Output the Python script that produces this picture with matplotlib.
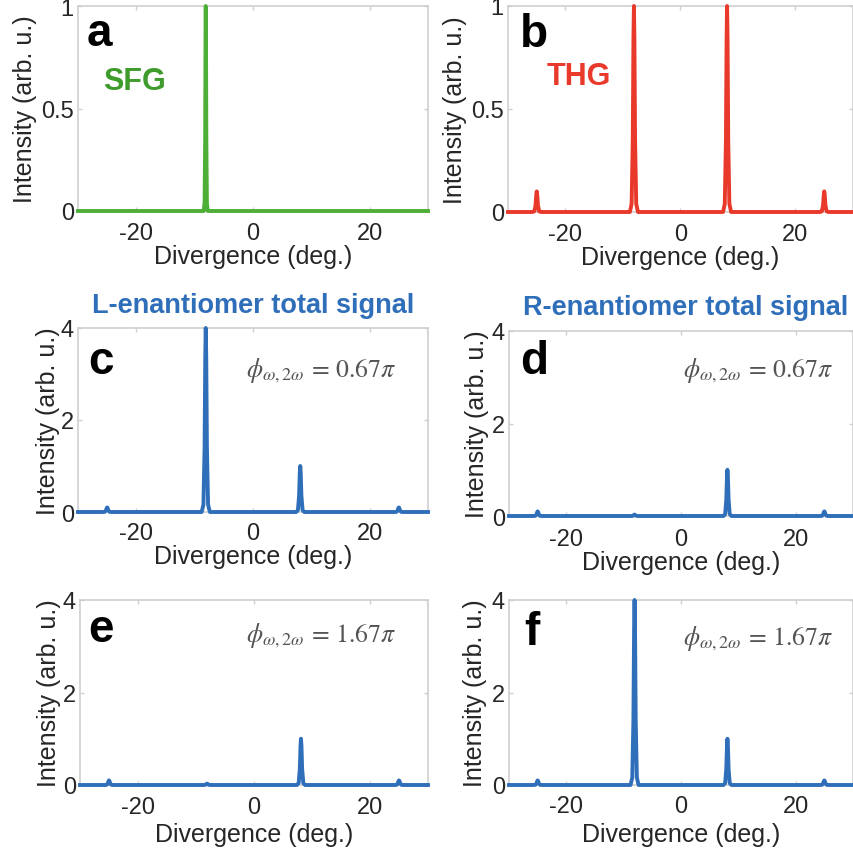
import matplotlib
matplotlib.use("Agg")
from matplotlib import pyplot as plt

# peak centres (deg.) and heights
CENTERS = [-25.0, -8.1, 8.1, 25.0]
H_SFG = [0.0, 1.0, 0.0, 0.0]
H_THG = [0.1, 1.0, 1.0, 0.1]
H_L_067 = [0.1, 4.0, 1.0, 0.1]
H_R_067 = [0.1, 0.03, 1.0, 0.1]
H_L_167 = [0.1, 0.03, 1.0, 0.1]
H_R_167 = [0.1, 4.0, 1.0, 0.1]

# shape of one peak (offset in deg., fraction of height)
PEAK_DX = [-0.7, -0.4, -0.2, -0.08, 0.0, 0.08, 0.2, 0.4, 0.7]
PEAK_DX_SFG = [-0.35, -0.2, -0.1, -0.04, 0.0, 0.04, 0.1, 0.2, 0.35]
PEAK_SHAPE = [0.0, 0.04, 0.35, 0.85, 1.0, 0.85, 0.35, 0.04, 0.0]

XLIM = (-30, 30)
XTICKS = [-20, 0, 20]
YTICKS_TOP = [0, 0.5, 1]
YTICKLABELS_TOP = ['0', '0.5', '1']
YTICKS_LOW = [0, 2, 4]
YTICKLABELS_LOW = ['0', '2', '4']

GREEN = '#4DAF36'
GREEN_TXT = '#3F9C2C'
RED = '#E8392B'
BLUE = '#2F6EB9'
SPINE = '#CFCFCF'
TXT = '#262626'
PHI_COL = '#555555'

plt.rcParams['font.family'] = ['Liberation Sans', 'DejaVu Sans']
plt.rcParams['mathtext.fontset'] = 'stix'
plt.rcParams['axes.unicode_minus'] = False

W = H = 854


def profile(heights, dx):
    xs, ys = [XLIM[0]], [0.0]
    for c, h in zip(CENTERS, heights):
        if h <= 0:
            continue
        for d, s in zip(dx, PEAK_SHAPE):
            xs.append(c + d)
            ys.append(h * s)
    xs.append(XLIM[1])
    ys.append(0.0)
    return xs, ys


def px_axes(fig, left, top, right, bottom):
    return fig.add_axes([left / W, 1 - bottom / H, (right - left) / W, (bottom - top) / H])


fig = plt.figure(figsize=(8.54, 8.54), dpi=100)

# panel: (box in px, heights, colour, peak dx, yticks, yticklabels, ymax,
#         ylabel x, xlabel y, xtick pad, letter, letter pos)
panels = [
    ((78, 7, 428, 212), H_SFG, GREEN, PEAK_DX_SFG, YTICKS_TOP, YTICKLABELS_TOP, 1,
     -0.151, -0.22, 8, 'a', (0.026, 0.81)),
    ((508, 7, 853, 213), H_THG, RED, PEAK_DX, YTICKS_TOP, YTICKLABELS_TOP, 1,
     -0.154, -0.218, 8, 'b', (0.036, 0.807)),
    ((78, 329, 428, 513), H_L_067, BLUE, PEAK_DX, YTICKS_LOW, YTICKLABELS_LOW, 4,
     -0.085, -0.239, 7.5, 'c', (0.028, 0.754)),
    ((509, 332, 853, 517), H_R_067, BLUE, PEAK_DX, YTICKS_LOW, YTICKLABELS_LOW, 4,
     -0.094, -0.249, 9, 'd', (0.033, 0.771)),
    ((80, 601, 428, 786), H_L_167, BLUE, PEAK_DX, YTICKS_LOW, YTICKLABELS_LOW, 4,
     -0.09, -0.265, 8, 'e', (0.023, 0.78)),
    ((509, 601, 853, 786), H_R_167, BLUE, PEAK_DX, YTICKS_LOW, YTICKLABELS_LOW, 4,
     -0.099, -0.265, 7.5, 'f', (0.045, 0.762)),
]

axes = []
for box, hts, col, dx, yt, ytl, ymax, ylx, xly, xpad, letter, lpos in panels:
    ax = px_axes(fig, *box)
    xs, ys = profile(hts, dx)
    ax.plot(xs, ys, color=col, lw=2.8, clip_on=False, solid_joinstyle='round', zorder=3)
    ax.set_xlim(*XLIM)
    ax.set_ylim(0, ymax)
    ax.set_xticks(XTICKS)
    ax.set_yticks(yt)
    ax.set_yticklabels(ytl)
    for sp in ax.spines.values():
        sp.set_color(SPINE)
        sp.set_linewidth(1.2)
    ax.tick_params(direction='in', length=3, width=1, color=SPINE, labelcolor=TXT,
                   labelsize=17, top=True, right=True)
    ax.tick_params(axis='x', pad=xpad)
    ax.tick_params(axis='y', pad=3)
    ax.set_xlabel('Divergence (deg.)', fontsize=18, color=TXT)
    ax.set_ylabel('Intensity (arb. u.)', fontsize=18, color=TXT)
    ax.xaxis.set_label_coords(0.5, xly)
    ax.xaxis.label.set_va('center')
    ax.yaxis.set_label_coords(ylx, 0.5)
    ax.yaxis.label.set_va('center')
    ax.text(lpos[0], lpos[1], letter, transform=ax.transAxes, fontsize=33,
            fontweight='bold', color='black', ha='left', va='baseline', zorder=4)
    axes.append(ax)

axes[0].text(0.071, 0.595, 'SFG', transform=axes[0].transAxes, fontsize=22,
             fontweight='bold', color=GREEN_TXT, ha='left', va='baseline')
axes[1].text(0.112, 0.621, 'THG', transform=axes[1].transAxes, fontsize=22,
             fontweight='bold', color=RED, ha='left', va='baseline')

phi_pos = [(0.909, 0.739), (0.942, 0.758), (0.909, 0.78), (0.942, 0.762)]
phi_txt = [r'$\phi_{\omega,2\omega}\,=\,0.67\pi$', r'$\phi_{\omega,2\omega}\,=\,0.67\pi$',
           r'$\phi_{\omega,2\omega}\,=\,1.67\pi$', r'$\phi_{\omega,2\omega}\,=\,1.67\pi$']
for ax, (x, y), t in zip(axes[2:], phi_pos, phi_txt):
    ax.text(x, y, t, transform=ax.transAxes, fontsize=18.5, color=PHI_COL,
            ha='right', va='baseline')

fig.text(253 / W, 1 - 313 / H, 'L-enantiomer total signal', fontsize=19.5,
         fontweight='bold', color=BLUE, ha='center', va='baseline')
fig.text(686 / W, 1 - 315 / H, 'R-enantiomer total signal', fontsize=19.5,
         fontweight='bold', color=BLUE, ha='center', va='baseline')

fig.savefig('out.png', dpi=100)
